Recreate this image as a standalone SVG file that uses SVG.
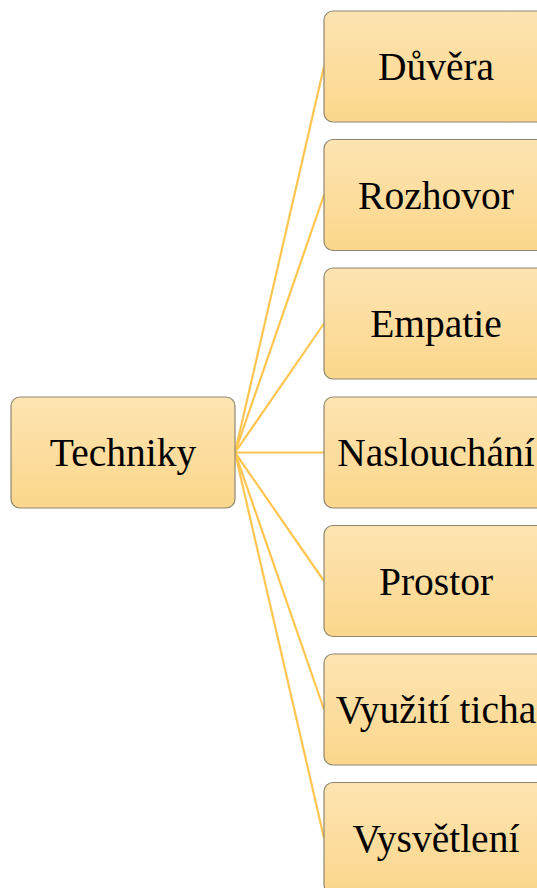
<svg xmlns="http://www.w3.org/2000/svg" width="537" height="888" viewBox="0 0 537 888">
<defs>
<linearGradient id="g" x1="0" y1="0" x2="0" y2="1">
<stop offset="0" stop-color="#FDE4B2"/>
<stop offset="1" stop-color="#FCD78C"/>
</linearGradient>
<style>
.box{fill:url(#g);stroke:#8F8670;stroke-width:1.2}
.lbl{font-family:"Liberation Serif","Times New Roman",serif;font-size:39.5px;fill:#000;text-anchor:middle;dominant-baseline:central}
.c{stroke:#FFC54F;stroke-width:2.2;fill:none}
</style>
</defs>
<rect width="537" height="888" fill="#fff"/>
<g id="connectors">
<line class="c" x1="235" y1="452.5" x2="324" y2="66.5"/>
<line class="c" x1="235" y1="452.5" x2="324" y2="195"/>
<line class="c" x1="235" y1="452.5" x2="324" y2="323.5"/>
<line class="c" x1="235" y1="452.5" x2="324" y2="452.5"/>
<line class="c" x1="235" y1="452.5" x2="324" y2="581"/>
<line class="c" x1="235" y1="452.5" x2="324" y2="709.5"/>
<line class="c" x1="235" y1="452.5" x2="324" y2="838"/>
</g>
<g id="techniky"><rect class="box" x="11" y="397" width="224" height="111" rx="9"/><text class="lbl" x="123" y="453">Techniky</text></g>
<g id="duvera"><rect class="box" x="324" y="11" width="224" height="111" rx="9"/><text class="lbl" x="436" y="67">Důvěra</text></g>
<g id="rozhovor"><rect class="box" x="324" y="139.5" width="224" height="111" rx="9"/><text class="lbl" x="436" y="195.5">Rozhovor</text></g>
<g id="empatie"><rect class="box" x="324" y="268" width="224" height="111" rx="9"/><text class="lbl" x="436" y="324">Empatie</text></g>
<g id="naslouchani"><rect class="box" x="324" y="397" width="224" height="111" rx="9"/><text class="lbl" x="436" y="453">Naslouchání</text></g>
<g id="prostor"><rect class="box" x="324" y="525.5" width="224" height="111" rx="9"/><text class="lbl" x="436" y="581.5">Prostor</text></g>
<g id="vyuziti"><rect class="box" x="324" y="654" width="224" height="111" rx="9"/><text class="lbl" x="436" y="710">Využití ticha</text></g>
<g id="vysvetleni"><rect class="box" x="324" y="782.5" width="224" height="111" rx="9"/><text class="lbl" x="436" y="838.5">Vysvětlení</text></g>
</svg>
